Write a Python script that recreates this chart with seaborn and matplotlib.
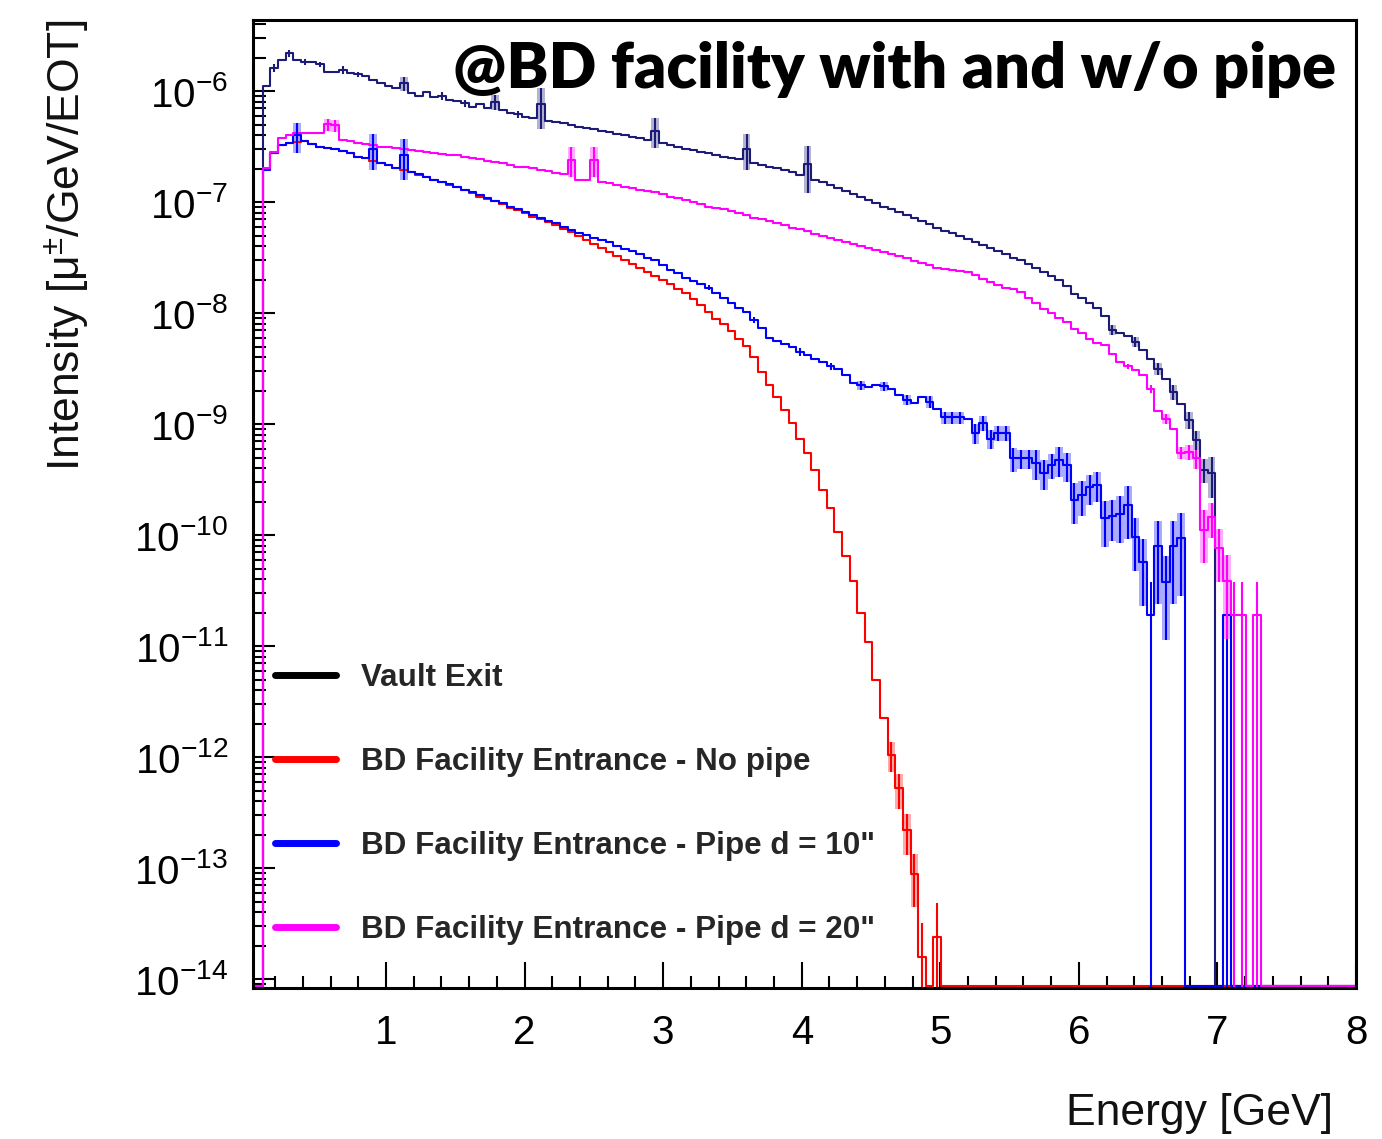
import numpy as np
import pandas as pd
import matplotlib
matplotlib.use("Agg")
import matplotlib.pyplot as plt
import seaborn as sns
from matplotlib.lines import Line2D
from matplotlib.ticker import LogLocator, FixedLocator, MultipleLocator, NullFormatter

# ---------------- data (log10 of intensity per 0.055 GeV bin; None = empty bin) -------------
BIN_WIDTH = 0.055
N_BINS = 146

vault_log = [
    None, None, -5.95, -5.79, -5.72, -5.66, -5.72, -5.74, -5.74, -5.76,
    -5.83, -5.83, -5.81, -5.84, -5.85, -5.86, -5.90, -5.93, -5.95, -5.97,
    -5.93, -6.02, -6.04, -6.01, -6.05, -6.04, -6.08, -6.09, -6.11, -6.14,
    -6.12, -6.15, -6.10, -6.17, -6.20, -6.21, -6.23, -6.24, -6.12, -6.27,
    -6.28, -6.29, -6.31, -6.32, -6.33, -6.34, -6.36, -6.37, -6.39, -6.40,
    -6.41, -6.42, -6.44, -6.36, -6.47, -6.49, -6.50, -6.52, -6.53, -6.55,
    -6.56, -6.58, -6.59, -6.60, -6.61, -6.52, -6.65, -6.67, -6.68, -6.69,
    -6.71, -6.73, -6.76, -6.66, -6.80, -6.82, -6.85, -6.87, -6.90, -6.93,
    -6.95, -6.98, -7.01, -7.04, -7.06, -7.09, -7.12, -7.14, -7.17, -7.20,
    -7.23, -7.26, -7.28, -7.31, -7.33, -7.36, -7.39, -7.41, -7.44, -7.47,
    -7.50, -7.52, -7.56, -7.59, -7.63, -7.67, -7.70, -7.76, -7.83, -7.86,
    -7.91, -7.95, -8.03, -8.15, -8.18, -8.21, -8.26, -8.33, -8.41, -8.50,
    -8.59, -8.71, -8.82, -8.96, -9.14, -9.41, -9.44,
]

nopipe_log = [
    None, None, -6.71, -6.56, -6.49, -6.47, -6.46, -6.45, -6.48, -6.50,
    -6.51, -6.52, -6.54, -6.56, -6.59, -6.60, -6.63, -6.65, -6.67, -6.69,
    -6.71, -6.73, -6.76, -6.77, -6.80, -6.82, -6.85, -6.86, -6.89, -6.92,
    -6.95, -6.97, -6.99, -7.02, -7.05, -7.07, -7.10, -7.13, -7.15, -7.18,
    -7.21, -7.24, -7.27, -7.31, -7.34, -7.38, -7.41, -7.45, -7.49, -7.52,
    -7.56, -7.59, -7.63, -7.67, -7.70, -7.74, -7.78, -7.82, -7.87, -7.93,
    -7.99, -8.05, -8.10, -8.16, -8.23, -8.30, -8.40, -8.53, -8.65, -8.76,
    -8.87, -8.99, -9.13, -9.26, -9.41, -9.59, -9.76, -9.97, -10.19, -10.41,
    -10.70, -10.96, -11.31, -11.65, -11.98, -12.28, -12.66, -13.05, -13.80, None,
    -13.62,
]

pipe10_log = [
    None, None, -6.71, -6.56, -6.49, -6.47, -6.40, -6.45, -6.48, -6.50,
    -6.51, -6.52, -6.54, -6.56, -6.59, -6.60, -6.52, -6.65, -6.67, -6.69,
    -6.58, -6.73, -6.75, -6.77, -6.80, -6.82, -6.84, -6.86, -6.89, -6.91,
    -6.94, -6.96, -6.99, -7.01, -7.04, -7.06, -7.09, -7.12, -7.14, -7.17,
    -7.19, -7.22, -7.25, -7.28, -7.30, -7.32, -7.34, -7.36, -7.40, -7.42,
    -7.44, -7.47, -7.50, -7.52, -7.57, -7.61, -7.64, -7.68, -7.71, -7.74,
    -7.77, -7.82, -7.86, -7.91, -7.95, -7.99, -8.06, -8.13, -8.22, -8.25,
    -8.28, -8.31, -8.35, -8.38, -8.41, -8.44, -8.48, -8.50, -8.56, -8.63,
    -8.65, -8.67, -8.65, -8.66, -8.68, -8.74, -8.78, -8.81, -8.76, -8.80,
    -8.86, -8.94, -8.94, -8.94, -8.95, -9.08, -8.99, -9.13, -9.08, -9.08,
    -9.31, -9.31, -9.31, -9.35, -9.44, -9.37, -9.32, -9.37, -9.68, -9.64,
    -9.57, -9.55, -9.85, -9.83, -9.81, -9.73, -10.02, -10.24, -10.72, -10.10,
    -10.42, -10.10, -10.03, None, None, None, None, None, -10.72,
]

pipe20_log = [
    None, None, -6.69, -6.55, -6.42, -6.40, -6.38, -6.38, -6.38, -6.38,
    -6.30, -6.31, -6.44, -6.45, -6.47, -6.48, -6.49, -6.50, -6.50, -6.51,
    -6.52, -6.53, -6.54, -6.55, -6.56, -6.57, -6.58, -6.58, -6.59, -6.60,
    -6.61, -6.63, -6.64, -6.65, -6.67, -6.68, -6.68, -6.69, -6.71, -6.72,
    -6.74, -6.75, -6.62, -6.80, -6.80, -6.62, -6.82, -6.83, -6.85, -6.86,
    -6.87, -6.89, -6.90, -6.91, -6.93, -6.95, -6.96, -6.98, -7.00, -7.02,
    -7.04, -7.05, -7.06, -7.08, -7.10, -7.12, -7.14, -7.15, -7.17, -7.19,
    -7.21, -7.23, -7.24, -7.26, -7.29, -7.31, -7.32, -7.34, -7.36, -7.38,
    -7.40, -7.41, -7.43, -7.45, -7.47, -7.49, -7.50, -7.53, -7.55, -7.57,
    -7.59, -7.60, -7.61, -7.62, -7.63, -7.66, -7.69, -7.72, -7.75, -7.77,
    -7.78, -7.81, -7.86, -7.91, -7.96, -8.00, -8.04, -8.08, -8.14, -8.18,
    -8.23, -8.27, -8.29, -8.37, -8.44, -8.48, -8.51, -8.56, -8.68, -8.88,
    -8.95, -9.04, -9.26, -9.25, -9.31, -9.95, -9.84, -10.12, -10.41, -10.72,
    -10.72, None, -10.72,
]

# relative statistical errors for the bins where they are visible {bin index: fraction}
vault_err = {3: 0.08, 5: 0.08, 7: 0.06, 9: 0.06, 12: 0.08, 14: 0.06, 20: 0.15, 25: 0.08,
             28: 0.08, 32: 0.15, 35: 0.08, 38: 0.4, 53: 0.3, 65: 0.35, 73: 0.45,
             113: 0.1, 116: 0.1, 119: 0.12, 121: 0.15, 123: 0.18, 124: 0.2, 125: 0.25, 126: 0.4}
nopipe_err = {84: 0.3, 85: 0.35, 86: 0.4, 87: 0.5, 88: 1.0, 90: 1.0}
pipe10_err = {6: 0.3, 16: 0.35, 20: 0.4, 60: 0.05, 66: 0.06, 72: 0.08, 76: 0.08, 80: 0.1,
              83: 0.1, 86: 0.1, 89: 0.12, 91: 0.12, 92: 0.12, 93: 0.12, 95: 0.2, 96: 0.15,
              97: 0.2, 98: 0.15, 99: 0.15, 100: 0.25, 101: 0.2, 102: 0.2, 103: 0.3, 104: 0.3,
              105: 0.25, 106: 0.3, 107: 0.3, 108: 0.4, 109: 0.35, 110: 0.3, 111: 0.3,
              112: 0.45, 113: 0.4, 114: 0.45, 115: 0.5, 116: 0.5, 117: 0.6, 118: 1.0,
              119: 0.7, 120: 0.7, 121: 0.7, 122: 0.7, 128: 1.0}
pipe20_err = {10: 0.12, 11: 0.12, 42: 0.3, 45: 0.3, 115: 0.06, 118: 0.08, 120: 0.1,
              122: 0.12, 123: 0.15, 124: 0.2, 125: 0.5, 126: 0.35, 127: 0.5, 128: 0.7,
              129: 1.0, 130: 1.0, 132: 1.0}

labels = ["Vault Exit",
          "BD Facility Entrance - No pipe",
          "BD Facility Entrance - Pipe d = 10\"",
          "BD Facility Entrance - Pipe d = 20\""]
line_colors = ["#1c1c78", "#ff0000", "#0000ff", "#ff00ff"]
legend_colors = ["#000000", "#ff0000", "#0000ff", "#ff00ff"]
x_ticks = [1, 2, 3, 4, 5, 6, 7, 8]
y_decades = [-14, -13, -12, -11, -10, -9, -8, -7, -6]

# ---------------- style ----------------
sns.set_theme(style="white")
plt.rcParams['font.family'] = ['Liberation Sans', 'DejaVu Sans']
plt.rcParams['mathtext.fontset'] = 'custom'
plt.rcParams['mathtext.rm'] = 'Liberation Sans'
plt.rcParams['mathtext.it'] = 'Liberation Sans:italic'
plt.rcParams['mathtext.bf'] = 'Liberation Sans:bold'
plt.rcParams['axes.unicode_minus'] = True

Y_MIN, Y_MAX = 10 ** -14.08, 10 ** -5.36
FLOOR = Y_MIN * 1.04

edges = np.arange(N_BINS + 1) * BIN_WIDTH
centers = edges[:-1] + BIN_WIDTH / 2


def to_values(logs):
    logs = list(logs) + [None] * (N_BINS - len(logs))
    return np.array([10.0 ** v if v is not None else 0.0 for v in logs])


fig = plt.figure(figsize=(13.82, 11.39), dpi=100)
ax = fig.add_axes([0.1831, 0.1326, 0.7981, 0.8498])
ax.set_yscale('log')

series = [(vault_log, vault_err), (nopipe_log, nopipe_err),
          (pipe10_log, pipe10_err), (pipe20_log, pipe20_err)]

for (logs, errs), color in zip(series, line_colors):
    vals = to_values(logs)
    shown = np.where(vals > 0, vals, FLOOR)
    df = pd.DataFrame({"E": centers, "w": shown})
    sns.histplot(data=df, x="E", weights="w", bins=N_BINS,
                 binrange=(0.0, N_BINS * BIN_WIDTH), element="step", fill=False,
                 color=color, linewidth=1.5, ax=ax)
    idx = np.array(sorted(errs.keys()))
    frac = np.array([errs[i] for i in idx])
    v = vals[idx]
    lower = np.where(frac < 0.99, v * (1 - frac), Y_MIN * 0.3)
    upper = v * (1 + frac)
    box = (frac >= 0.1) & (frac < 0.99)
    ax.bar(centers[idx][box], (upper - lower)[box], bottom=lower[box], width=BIN_WIDTH,
           color=color, alpha=0.33, linewidth=0, zorder=1.5)
    ax.errorbar(centers[idx], v, yerr=[v - lower, upper - v], fmt='none',
                ecolor=color, elinewidth=1.5, capsize=0, zorder=2.5)

ax.set_xlim(0.04, 8.0)
ax.set_ylim(Y_MIN, Y_MAX)

ax.xaxis.set_major_locator(FixedLocator(x_ticks))
ax.xaxis.set_minor_locator(MultipleLocator(0.2))
ax.yaxis.set_major_locator(FixedLocator([10.0 ** d for d in y_decades]))
ax.yaxis.set_minor_locator(LogLocator(base=10, subs=np.arange(2, 10), numticks=200))
ax.yaxis.set_minor_formatter(NullFormatter())

ax.tick_params(axis='both', which='both', direction='in', colors='black',
               top=False, right=False, bottom=True, left=True)
ax.tick_params(axis='x', which='major', length=19, width=1.5, labelsize=29, pad=19)
ax.tick_params(axis='x', which='minor', length=8.5, width=1.5)
ax.tick_params(axis='y', which='major', length=16, width=1.5, labelsize=29, pad=18)
ax.tick_params(axis='y', which='minor', length=9.5, width=1.5)

for sp in ax.spines.values():
    sp.set_visible(True)
    sp.set_color('black')
    sp.set_linewidth(2.2)

ax.set_ylabel("Intensity [μ$^{\\pm}$/GeV/EOT]", fontsize=32, loc='top', color='#111111')
ax.yaxis.set_label_coords(-0.146, 1.0)
ax.set_xlabel("Energy [GeV]", fontsize=32, loc='right', color='#111111')
ax.xaxis.set_label_coords(0.979, -0.108)

handles = [Line2D([], [], color=c, lw=5) for c in legend_colors]
ax.legend(handles, labels, loc='center left', bbox_to_anchor=(0.02, 0.1905),
          frameon=False, prop=dict(family='Liberation Sans', weight='bold', size=22.6),
          handlelength=1.95, handletextpad=0.8, labelspacing=1.72,
          borderpad=0, borderaxespad=0)

fig.text(1336 / 1382, 1 - 70 / 1139, "@BD facility with and w/o pipe",
         ha='right', va='center', fontsize=45.3, fontweight='heavy',
         family=['Lato', 'DejaVu Sans'], color='black')

fig.savefig("out.png", dpi=100, facecolor='white')
